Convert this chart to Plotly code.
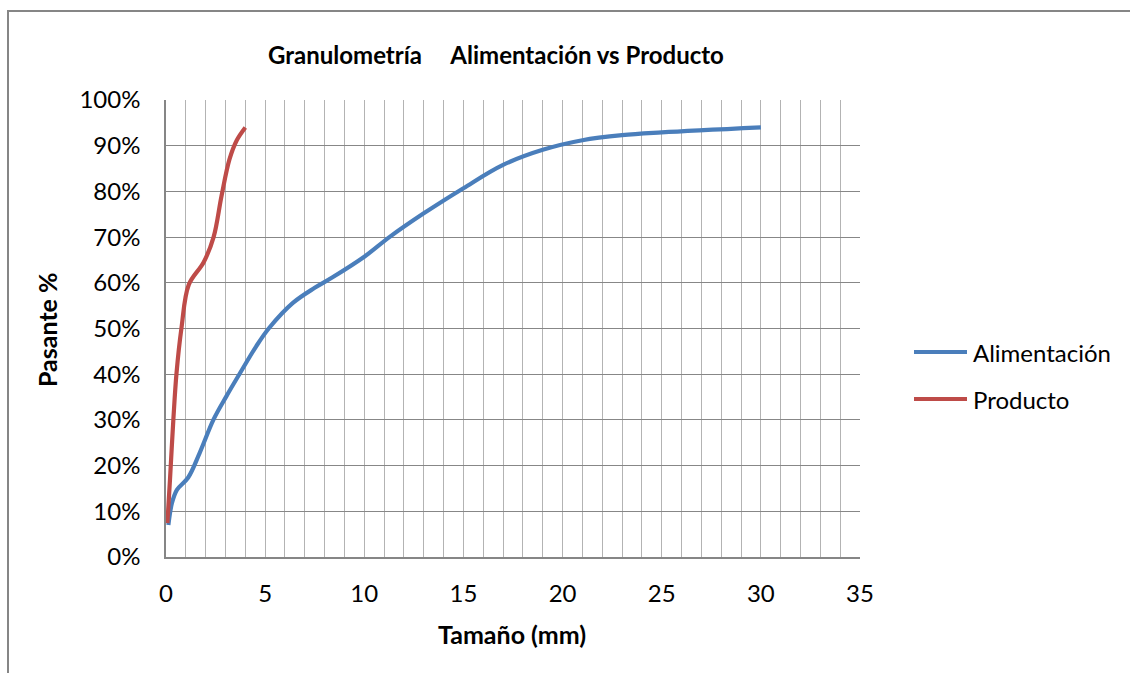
import plotly.graph_objects as go

# Curvas granulométricas: tamaño (mm) vs % pasante acumulado
alim_mm = [0.12, 0.3, 0.55, 1.12, 1.7, 2.4, 3.05, 3.7, 4.55, 5.2, 6.4, 7.5, 8.4,
           10.0, 11.3, 13.0, 15.0, 17.0, 19.0, 21.0, 23.0, 25.0, 30.0]
alim_pct = [7.0, 11.8, 14.7, 17.4, 22.8, 30.1, 35.2, 40.0, 46.1, 50.1, 55.6, 58.9, 61.2,
            65.7, 70.1, 75.2, 80.7, 85.8, 89.1, 91.2, 92.3, 92.9, 94.0]

prod_mm = [0.07, 0.2, 0.37, 0.53, 0.78, 1.15, 1.9, 2.4, 2.8, 3.2, 3.57, 4.0]
prod_pct = [7.4, 16.9, 30.0, 40.2, 50.1, 59.6, 64.5, 70.0, 79.0, 87.0, 91.2, 94.0]

series_names = ["Alimentación", "Producto"]
series_colors = ["#4A7EBB", "#BE4B48"]

x_ticks = [0, 5, 10, 15, 20, 25, 30, 35]
y_ticks = [0, 10, 20, 30, 40, 50, 60, 70, 80, 90, 100]
y_labels = [f"{v}%" for v in y_ticks]

FONT = "Lato"
W, H = 1130, 673
L, R, T, B = 166, 860, 100, 557  # plot area in pixels


def px_x(px):
    return (px - L) / (R - L)


def px_y(py):
    return (B - py) / (B - T)


fig = go.Figure()
for xs, ys, name, color in zip([alim_mm, prod_mm], [alim_pct, prod_pct],
                               series_names, series_colors):
    fig.add_trace(go.Scatter(
        x=xs, y=ys, name=name, mode="lines",
        line=dict(color=color, width=4.2, shape="spline", smoothing=1.0),
        showlegend=False,
    ))

fig.update_layout(
    width=W, height=H,
    margin=dict(l=L, r=W - R, t=T, b=H - B, pad=0),
    paper_bgcolor="white", plot_bgcolor="white",
    font=dict(family=FONT, size=24, color="#000000"),
    xaxis=dict(
        range=[0, 35], tickvals=x_ticks, ticks="",
        showgrid=True, gridcolor="#B3B3B3", gridwidth=1.3,
        minor=dict(dtick=1, showgrid=True, gridcolor="#B3B3B3", gridwidth=1.3),
        showline=True, linecolor="#868686", linewidth=1.5,
        zeroline=False, ticklabelstandoff=14,
        tickfont=dict(family=FONT, size=24, color="#000"),
    ),
    yaxis=dict(
        range=[0, 100], tickvals=y_ticks, ticktext=y_labels, ticks="",
        showgrid=True, gridcolor="#878787", gridwidth=1.3,
        showline=True, linecolor="#868686", linewidth=1.5,
        zeroline=False, ticklabelstandoff=19,
        tickfont=dict(family=FONT, size=24, color="#000"),
    ),
)

annotations = [
    dict(text="<b>Granulometría\u00a0\u00a0\u00a0\u00a0\u00a0Alimentación vs Producto</b>",
         x=px_x(496), y=px_y(55), xanchor="center", yanchor="middle",
         font=dict(family=FONT, size=24, color="#000")),
    dict(text="<b>Tamaño (mm)</b>", x=px_x(512), y=px_y(634),
         xanchor="center", yanchor="middle",
         font=dict(family=FONT, size=25, color="#000")),
    dict(text="<b>Pasante %</b>", x=px_x(47), y=px_y(330), textangle=-90,
         xanchor="center", yanchor="middle",
         font=dict(family=FONT, size=25, color="#000")),
]

# Leyenda dibujada a la derecha del área de trazado
shapes = []
for i, (name, color) in enumerate(zip(series_names, series_colors)):
    ly = 352 + i * 47
    shapes.append(dict(type="line", xref="paper", yref="paper",
                       x0=px_x(914), x1=px_x(967), y0=px_y(ly), y1=px_y(ly),
                       line=dict(color=color, width=4.2)))
    annotations.append(dict(text=name, x=px_x(971), y=px_y(ly),
                            xanchor="left", yanchor="middle",
                            font=dict(family=FONT, size=24, color="#000")))

# Marco exterior del gráfico
shapes.append(dict(type="rect", xref="paper", yref="paper",
                   x0=px_x(8), x1=px_x(1140), y0=px_y(690), y1=px_y(11),
                   line=dict(color="#868686", width=2), layer="below"))

for a in annotations:
    a.setdefault("xref", "paper")
    a.setdefault("yref", "paper")
    a.setdefault("showarrow", False)

fig.update_layout(annotations=annotations, shapes=shapes)

fig.write_html("out.html")
